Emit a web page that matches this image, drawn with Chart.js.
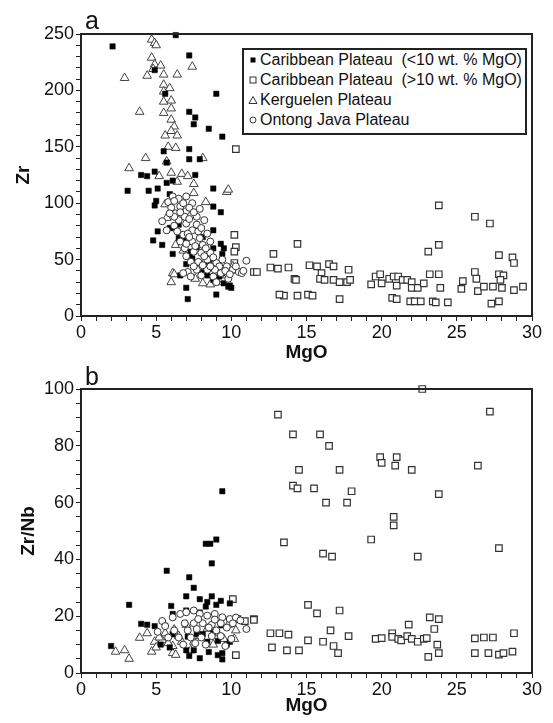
<!DOCTYPE html>
<html lang="en">
<head>
<meta charset="UTF-8">
<title>Zr and Zr/Nb vs MgO</title>
<script src="https://cdn.jsdelivr.net/npm/chart.js"></script>
<style>
  body { margin: 0; background: #fff; font-family: 'Liberation Sans', Arial, sans-serif; }
  #wrap { position: relative; width: 553px; height: 723px; }
  canvas { position: absolute; left: 0; }
  #chartA { top: 0; }
  #chartB { top: 360px; }
  .panel { position: absolute; left: 85px; font-size: 25px; line-height: 25px; color: #111; }
  #legend { position: absolute; left: 242px; top: 48px; width: 281px; height: 83px;
            border: 2px solid #222; background: #fff; font-size: 16px; color: #111; }
  #legend div { height: 20px; line-height: 20px; white-space: pre; }
  #legend svg { display: inline-block; vertical-align: middle; margin-top: -2px; }
</style>
</head>
<body>
<div id="wrap">
  <canvas id="chartA" width="553" height="370"></canvas>
  <canvas id="chartB" width="553" height="363"></canvas>
  <div class="panel" style="top:8px">a</div>
  <div class="panel" style="top:364px">b</div>
  <div id="legend">
    <div><svg width="16" height="10"><rect x="6.5" y="2.5" width="5" height="5" fill="#000"/></svg>Caribbean Plateau  (&lt;10 wt. % MgO)</div>
    <div><svg width="16" height="10"><rect x="6" y="2" width="6" height="6" fill="#fff" stroke="#333"/></svg>Caribbean Plateau  (&gt;10 wt. % MgO)</div>
    <div><svg width="16" height="10"><polygon points="9,1.5 13,8.5 5,8.5" fill="#fff" stroke="#333"/></svg>Kerguelen Plateau</div>
    <div><svg width="16" height="10"><circle cx="9" cy="5" r="3" fill="#fff" stroke="#333"/></svg>Ontong Java Plateau</div>
  </div>
</div>

<script>
// panel a: Zr vs MgO, [MgO, Zr]
const carLowA = [[2.1,239],[6.3,249],[7.2,231],[4.9,218],[9.0,197],[5.6,197],[7.2,181],[7.6,176],[7.5,170],
  [8.5,166],[9.4,159],[5.5,146],[7.2,148],[7.2,139],[7.9,139],[5.7,136],[4.0,125],[4.4,124],[4.9,128],
  [5.7,118],[6.1,120],[7.6,125],[3.1,111],[4.5,111],[5.1,113],[5.0,102],[4.9,98],[8.8,113],[8.8,97],
  [9.3,92],[5.9,108],[6.0,78],[5.1,75],[4.8,67],[5.4,63],[6.1,55],[8.8,76],[9.5,60],[9.3,64],[7.0,25],
  [7.1,15],[9.0,19],[6.6,36],[7.0,46],[8.8,32],[9.4,38],[9.9,27],[10.0,25],[5.9,78],[6.5,81],[6.6,72],
  [6.5,69],[6.9,67],[7.3,57],[8.8,60],[9.4,55],[8.5,47],[7.9,47],[7.4,51],[8.1,39],[9.2,35],[8.4,36],
  [9.8,26],[9.5,29],[7.7,61],[8.1,70],[7.2,53]];
const carHighA = [[10.3,148],[23.8,98],[26.2,88],[27.2,82],[23.1,57],[23.8,63],[14.4,64],[12.8,55],[12.6,43],
  [13.1,42],[13.8,43],[14.2,33],[14.3,32],[15.2,45],[15.7,44],[16.0,38],[15.9,33],[16.5,46],[16.8,44],
  [16.2,32],[16.8,32],[17.2,30],[17.8,41],[17.7,30],[17.9,32],[13.5,18],[14.4,18],[15.1,19],[15.4,18],
  [17.2,15],[19.3,28],[19.6,35],[19.9,37],[20.0,29],[20.5,33],[20.8,35],[21.1,35],[21.0,27],[21.4,32],
  [21.7,32],[22.0,30],[22.0,25],[22.4,25],[22.8,29],[23.2,37],[23.8,37],[23.9,25],[20.7,16],[21.0,15],
  [21.9,13],[22.2,13],[22.6,13],[23.4,13],[23.6,12],[24.4,12],[25.3,24],[25.4,31],[26.2,39],[26.3,33],
  [26.4,22],[26.8,26],[27.4,26],[27.3,11],[27.8,13],[27.8,54],[27.8,37],[28.1,36],[27.9,32],[28.0,25],
  [28.7,52],[28.8,47],[28.8,23],[29.4,26],[10.2,72],[10.3,61],[10.2,57],[10.2,47],[10.2,41],[11.5,39],
  [11.7,39],[13.2,19]];
const kergA = [[4.7,245],[4.9,242],[5.0,240],[4.7,229],[4.9,223],[5.3,222],[7.4,221],[4.8,219],[2.9,211],
  [4.4,213],[5.5,214],[6.4,214],[5.5,205],[5.9,202],[5.5,199],[6.0,191],[5.5,190],[6.0,184],[3.9,181],
  [5.5,180],[6.0,174],[6.2,168],[6.0,164],[5.6,160],[6.4,160],[5.8,150],[6.3,149],[4.3,140],[5.7,137],
  [8.1,140],[3.2,131],[5.2,124],[6.0,127],[6.7,126],[7.1,124],[6.4,119],[7.5,117],[7.5,109],[8.3,101],
  [9.7,110],[9.8,112],[5.6,99],[5.7,87],[6.3,63],[6.1,38],[6.0,30],[6.2,37],[7.6,33],[8.1,29],[8.6,28],
  [9.1,30],[9.7,36],[10.1,44],[9.7,42],[7.2,54],[8.5,50],[6.8,58]];
const ojpA = [[5.8,101],[6.1,106],[6.5,104],[7.0,106],[7.4,100],[6.6,97],[6.0,96],[6.3,91],[7.0,93],[7.7,88],
  [5.4,84],[5.7,76],[6.5,85],[7.0,82],[7.7,81],[7.4,76],[6.8,72],[8.4,73],[7.9,69],[7.4,66],[6.7,63],
  [8.1,63],[8.6,66],[7.5,57],[8.0,56],[8.6,56],[7.0,53],[7.8,48],[8.4,50],[9.0,47],[9.7,44],[10.1,41],
  [9.3,38],[7.1,39],[7.7,41],[8.4,41],[9.8,33],[11.0,49],[10.5,39],[10.7,38],[8.8,35],[6.2,102],[6.8,100],
  [7.2,96],[6.9,88],[6.2,80],[7.2,86],[7.5,92],[6.4,75],[7.1,73],[7.8,75],[8.0,78],[7.2,70],[7.6,62],
  [8.3,60],[6.9,60],[7.3,48],[8.2,53],[8.8,52],[9.2,44],[8.9,41],[9.6,40],[10.3,44],[9.9,37],[7.5,44],
  [8.1,45],[6.2,88],[5.9,91],[6.6,92],[7.9,95],[8.2,85],[6.6,66],[7.0,64],[9.4,50],[8.6,44],[10.8,40],
  [9.0,30],[8.0,36],[6.8,38],[7.3,35]];

// panel b: Zr/Nb vs MgO, [MgO, Zr/Nb]
const carLowB = [[9.4,64],[9.0,47],[8.3,45.5],[8.6,45.5],[8.7,38.6],[5.7,36],[7.2,33.7],[7.5,30],[3.2,24],
  [6.0,23.6],[7.0,27],[7.9,26],[8.7,27],[8.4,25],[9.0,24],[9.9,24.5],[9.3,25.4],[2.0,9.5],[4.0,17.3],
  [4.4,17],[4.9,16.5],[6.1,20.8],[7.2,6],[7.9,5.2],[9.4,4.8],[9.4,7],[8.5,7.4],[9.1,6.3],[7.0,8],[7.5,8],
  [7.1,12.8],[7.7,13.7],[8.1,13.7],[8.4,11],[9.1,11.3],[9.7,10],[9.9,11],[8.8,14.5],[9.3,16.8],[9.9,19],
  [5.6,16.6],[6.1,13.6],[7.0,22],[7.9,21.3],[8.3,23.4],[5.9,9],[5.3,10]];
const carHighB = [[22.7,100],[13.1,91],[27.2,92],[14.1,84],[15.9,84],[16.5,80],[19.9,76],[20.0,74],[21.0,76],
  [20.9,73],[26.4,73],[14.5,71.5],[17.2,71.5],[22.0,71.5],[14.1,66],[14.4,65],[15.5,65],[18.0,64],
  [16.3,60],[17.7,60],[23.8,63],[20.8,55],[20.8,52],[13.5,46],[19.3,47],[16.1,42],[16.7,41],[22.4,41],
  [27.8,44],[15.1,24],[15.7,21],[17.2,22],[11.5,19],[16.6,15],[12.6,14],[13.2,14],[13.8,13.5],[17.8,13],
  [12.7,9],[13.7,8],[14.5,8],[15.1,11.5],[16.1,11],[16.8,9.5],[17.1,7],[19.6,12],[20.0,12.3],[20.7,14],
  [20.7,12.7],[21.1,12],[21.3,11.5],[21.7,13],[22.0,12],[22.4,11],[22.8,12],[23.0,12.3],[21.8,17],
  [23.2,19.6],[23.8,19],[23.5,15.5],[23.7,10],[23.8,7],[23.1,5.7],[26.2,12.2],[26.8,12.5],[27.4,12.5],
  [28.8,14],[26.2,7],[27.1,7],[27.8,6.5],[28.1,7],[28.7,7.5],[10.1,26],[10.9,18.3],[11.5,18.7],[10.3,6.3],
  [10.4,19]];
const kergB = [[2.3,7.5],[2.9,8],[3.2,5],[3.9,12.4],[4.4,14],[4.9,11],[4.7,7.5],[5.0,9],[5.4,11.5],[5.6,14],
  [6.1,7],[6.3,6.4],[6.1,9.5],[6.7,11],[7.3,8],[7.5,11],[7.9,13],[9.1,14],[9.8,17],[10.3,15],[6.2,15.3],
  [7.0,17],[8.4,15.6],[5.2,12.5],[5.8,10.5],[6.5,13],[8.8,10],[9.5,12],[10.2,12]];
const ojpB = [[5.4,18.3],[5.6,16.5],[6.1,19.6],[6.6,20.8],[7.0,21.4],[7.5,22],[7.9,20.8],[8.4,20.2],[8.9,20.8],
  [9.4,19.6],[9.9,19],[10.3,19.5],[11.0,15.5],[6.9,17.5],[7.5,17.5],[8.1,17.5],[8.7,17],[9.3,17.5],
  [6.2,15],[7.1,15],[7.7,15.5],[8.5,16],[9.0,15],[9.7,16],[6.5,12.5],[7.3,12.5],[8.0,12.5],[8.7,13],
  [9.3,13],[10.0,12],[6.8,10],[7.6,10.5],[8.3,10],[9.6,9.5],[5.8,12.5],[5.1,14.5],[7.8,19],[8.9,18.8],
  [10.1,17.5],[10.6,18.5]];

const xMax = 30;

Chart.defaults.font.family = "'Liberation Sans', Arial, sans-serif";
Chart.defaults.color = '#111';

// box round the plot area
const frame = {
  id: 'frame',
  afterDraw(chart) {
    const { ctx, chartArea: a } = chart;
    ctx.save();
    ctx.strokeStyle = '#222';
    ctx.lineWidth = 2;
    ctx.strokeRect(a.left, a.top, a.right - a.left, a.bottom - a.top);
    ctx.restore();
  }
};

function pts(arr) { return arr.map(p => ({ x: p[0], y: p[1] })); }

function sets(low, high, kerg, ojp) {
  return [
    { label: 'Caribbean Plateau (<10 wt. % MgO)', data: pts(low), pointStyle: 'rect', pointRadius: 3.8,
      backgroundColor: '#000', borderColor: '#000', borderWidth: 0.5, order: 2, clip: false },
    { label: 'Caribbean Plateau (>10 wt. % MgO)', data: pts(high), pointStyle: 'rect', pointRadius: 4.6,
      backgroundColor: '#fff', borderColor: '#333', borderWidth: 1.2, order: 4, clip: false },
    { label: 'Kerguelen Plateau', data: pts(kerg), pointStyle: 'triangle', pointRadius: 5,
      backgroundColor: '#fff', borderColor: '#444', borderWidth: 1, order: 3, clip: false },
    { label: 'Ontong Java Plateau', data: pts(ojp), pointStyle: 'circle', pointRadius: 3.5,
      backgroundColor: '#fff', borderColor: '#333', borderWidth: 1, order: 1, clip: false }
  ];
}

function makeChart(id, datasets, yMax, yStep, yLabelStep, yTitle, yTitlePad, padTop, xAxisH) {
  return new Chart(document.getElementById(id), {
    type: 'scatter',
    data: { datasets: datasets },
    options: {
      responsive: false,
      animation: false,
      layout: { padding: { top: padTop, right: 21, left: 0, bottom: 0 } },
      plugins: { legend: { display: false }, tooltip: { enabled: false } },
      scales: {
        x: {
          type: 'linear', min: 0, max: xMax,
          afterFit: s => { s.height = xAxisH; },
          border: { display: false },
          grid: { drawOnChartArea: false, tickLength: 5, color: '#222' },
          ticks: { stepSize: 1, autoSkip: false, maxRotation: 0, padding: 1, font: { size: 18 },
                   callback: v => v % 5 === 0 ? v : '' },
          title: { display: true, text: 'MgO', font: { size: 19, weight: 'bold' }, padding: { top: 0, bottom: 6 } }
        },
        y: {
          type: 'linear', min: 0, max: yMax,
          afterFit: s => { s.width = 81; },
          border: { display: false },
          grid: { drawOnChartArea: false, tickLength: 5, color: '#222' },
          ticks: { stepSize: yStep, autoSkip: false, padding: 2, font: { size: 18 },
                   callback: v => v % yLabelStep === 0 ? v : '' },
          title: { display: true, text: yTitle, font: { size: 19, weight: 'bold' }, padding: { top: yTitlePad, bottom: 0 } }
        }
      }
    },
    plugins: [frame]
  });
}

makeChart('chartA', sets(carLowA, carHighA, kergA, ojpA), 250, 10, 50, 'Zr', 12, 34, 54);
makeChart('chartB', sets(carLowB, carHighB, kergB, ojpB), 100, 5, 20, 'Zr/Nb', 17, 29, 50);
</script>
</body>
</html>
